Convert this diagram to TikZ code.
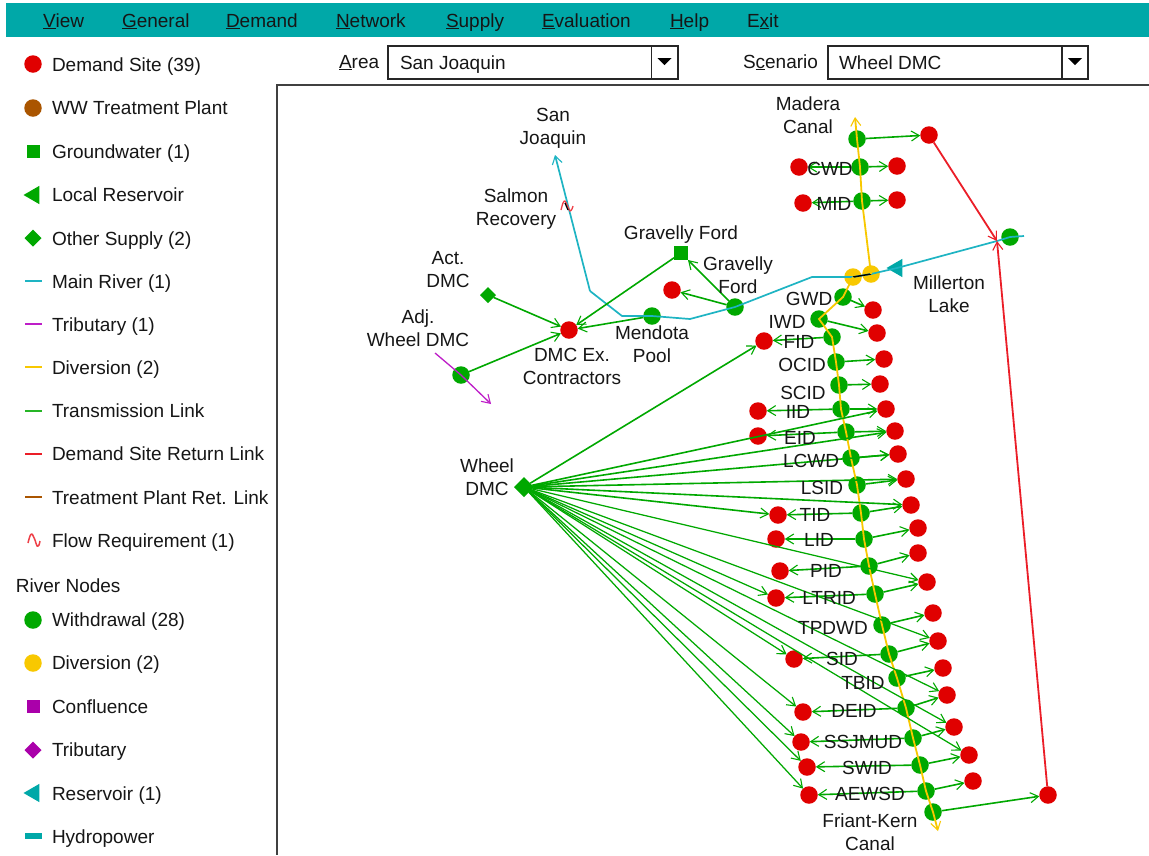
\documentclass[tikz,border=0pt]{standalone}
\usepackage{fontspec}
\setmainfont{Liberation Sans}
\usetikzlibrary{arrows.meta,shapes.geometric}
\definecolor{tgreen}{RGB}{0,168,0}
\definecolor{tred}{RGB}{224,0,0}
\definecolor{lred}{RGB}{235,30,40}
\definecolor{tteal}{RGB}{0,168,168}
\definecolor{river}{RGB}{30,180,195}
\definecolor{tyellow}{RGB}{248,200,0}
\definecolor{tpurple}{RGB}{170,0,170}
\definecolor{lpurple}{RGB}{190,30,200}
\definecolor{tbrown}{RGB}{170,85,0}
\definecolor{ink}{RGB}{22,22,22}
\tikzset{
  x=1pt,y=-1pt,
  every node/.style={inner sep=0pt,outer sep=0pt,text=ink,font=\fontsize{19}{23}\selectfont},
  dot/.style={circle,minimum size=17.500pt,fill=#1},
  sq/.style={rectangle,minimum size=#1,fill=tgreen},
  dia/.style={diamond,aspect=1,minimum size=#1,fill=tgreen},
  tri/.style={regular polygon,regular polygon sides=3,shape border rotate=90,minimum size=21pt,fill=#1},
  barb/.style={-{Straight Barb[length=8pt,width=10pt,line width=1.1pt]}},
  trans/.style={barb,draw=tgreen,line width=1.6pt},
  thin trans/.style={barb,draw=tgreen,line width=1.25pt},
  ret/.style={barb,draw=lred,line width=1.8pt},
  riverline/.style={draw=river,line width=1.7pt},
  divline/.style={draw=tyellow,line width=1.8pt},
  trib/.style={barb,draw=lpurple,line width=1.3pt},
  mapl/.style={align=center},
  rowl/.style={anchor=base},
  leg/.style={anchor=base west},
  keyl/.style={line width=1.7pt},
  menu/.style={anchor=base west},
  boxl/.style={draw=black!85,line width=1.3pt,fill=white,minimum height=33pt,anchor=north west},
}
\begin{document}
\begin{tikzpicture}
\useasboundingbox (0,0) rectangle (1149,855);
\fill[white] (0,0) rectangle (1149,855);
% menu bar
\node[fill=tteal,minimum width=1143pt,minimum height=34pt,anchor=north west] (bar) at (6,3) {};
\node[menu] (mView) at (43,27) {\underline{V}iew};
\node[menu] (mGeneral) at (122,27) {\underline{G}eneral};
\node[menu] (mDemand) at (226,27) {\underline{D}emand};
\node[menu] (mNetwork) at (336,27) {\underline{N}etwork};
\node[menu] (mSupply) at (446,27) {\underline{S}upply};
\node[menu] (mEval) at (542,27) {\underline{E}valuation};
\node[menu] (mHelp) at (670,27) {\underline{H}elp};
\node[menu] (mExit) at (747,27) {E\underline{x}it};
% selectors
\node[menu] (lArea) at (339,68) {\underline{A}rea};
\node[boxl,minimum width=290pt] (bArea) at (388,46) {};
\node[anchor=base west] (tArea) at (400,69) {San Joaquin};
\node[boxl,minimum width=26pt] (btnA) at (651.500,46) {};
\node[isosceles triangle,isosceles triangle apex angle=90,shape border rotate=-90,fill=black,minimum height=7pt,inner sep=0pt,minimum width=13pt] (trA) at (664.500,61) {};
\node[menu] (lScen) at (743,68) {S\underline{c}enario};
\node[boxl,minimum width=260pt] (bScen) at (828,46) {};
\node[anchor=base west] (tScen) at (839,69) {Wheel DMC};
\node[boxl,minimum width=26pt] (btnS) at (1062,46) {};
\node[isosceles triangle,isosceles triangle apex angle=90,shape border rotate=-90,fill=black,minimum height=7pt,inner sep=0pt,minimum width=13pt] (trS) at (1075,61) {};
% map frame
\coordinate (fa) at (1149,85);
\coordinate (fb) at (277,85);
\coordinate (fc) at (277,855);
\draw[draw=black!75,line width=1.6pt] (fa) -- (fb) -- (fc);
% legend icons
\node[dot=tred] (k1) at (33,64) {};
\node[dot=tbrown] (k2) at (33,108) {};
\node[sq=13pt] (k3) at (33,151) {};
\node[tri=tgreen] (k4) at (34,195) {};
\node[dia=17pt] (k5) at (33,238) {};
\foreach \n/\y/\c in {a/281/river,b/324/lpurple,c/367/tyellow,d/411/tgreen!85!white,e/454/lred,f/497/tbrown}{
  \coordinate (kl\n) at (25,\y);
  \coordinate (kr\n) at (42,\y);
  \draw[keyl,draw=\c] (kl\n) -- (kr\n);
}
\draw[lred!85,line width=1.5pt,line join=round] plot[smooth] coordinates {(28,543) (30,536) (32,534) (35,540) (37,546) (39,545) (40,541)};
\node[dot=tgreen] (k7) at (33,620) {};
\node[dot=tyellow] (k8) at (33,663) {};
\node[sq=13pt,fill=tpurple] (k9) at (33,706) {};
\node[dia=17pt,fill=tpurple] (k10) at (33,750) {};
\node[tri=tteal] (k11) at (34,793) {};
\node[rectangle,fill=tteal,minimum width=17pt,minimum height=6pt] (k12) at (33,836) {};
% legend text
\foreach \t/\y in {Demand Site (39)/71,WW Treatment Plant/114,Groundwater (1)/158,Local Reservoir/201,Other Supply (2)/245,Main River (1)/288,Tributary (1)/331,Diversion (2)/374,Transmission Link/417,Demand Site Return Link/460,Treatment Plant Ret. Link/504,Flow Requirement (1)/547,Withdrawal (28)/626,Diversion (2)/669,Confluence/713,Tributary/756,Reservoir (1)/800,Hydropower/843}{
  \node[leg] at (52,\y) {\t};
}
\node[leg] (rn) at (16,592) {River Nodes};
% withdrawal nodes
\foreach \n/\x/\y in {Mad/857/139,CWD/860/167,MID/862/201,GWD/843/297,IWD/819/319,FID/832/337,OCID/836/362,SCID/839/385,IID/841/409,EID/846/432,LCWD/851/458,LSID/857/485,TID/861/513,LID/864/539,PID/869/566,LTRID/875/594,TPDWD/882/625,SID/889/654,TBID/897/678,DEID/906/708,SSJMUD/913/738,SWID/920/765,AEWSD/926/791,FK/933/812,Mill/1010/237,GF/735/307,Men/652/316,Adj/461/375}{
  \node[dot=tgreen] (w\n) at (\x,\y) {};
}
% demand nodes right
\foreach \n/\x/\y in {Mad/929/135,CWD/897/166,MID/897/200,GWD/873/310,IWD/877/333,OCID/884/359,SCID/880/384,IID/886/409,EID/895/431,LCWD/898/454,LSID/906/479,TID/911/505,LID/918/528,PID/918/553,LTRID/927/582,TPDWD/933/613,SID/938/641,TBID/943/668,DEID/947/695,SSJMUD/954/727,SWID/969/755,AEWSD/973/781,FK/1048/795}{
  \node[dot=tred] (r\n) at (\x,\y) {};
}
% demand nodes left
\foreach \n/\x/\y in {CWD/799/167,MID/803/203,FID/764/341,IID/758/411,EID/758/436,TID/778/515,LID/776/539,PID/780/571,LTRID/776/598,SID/794/659,DEID/803/712,SSJMUD/801/742,SWID/807/767,AEWSD/809/795}{
  \node[dot=tred] (l\n) at (\x,\y) {};
}
\node[dot=tred] (dDMC) at (569,330) {};
\node[dot=tred] (dGF) at (672,290) {};
\node[sq=14pt] (gGF) at (681,253) {};
\node[dia=16pt] (sAct) at (488,295) {};
\node[dia=20pt] (sWheel) at (524,487) {};
\node[dot=tyellow] (dv1) at (853,277) {};
\node[dot=tyellow] (dv2) at (871,274) {};
\node[tri=tteal] (res) at (897,268) {};
% free ends
\coordinate (rvStart) at (1024,236);
\coordinate (rv1) at (997,241);
\coordinate (rv2) at (812,277);
\coordinate (rv3) at (690,319);
\coordinate (rv4) at (622,316);
\coordinate (rv5) at (590,291);
\coordinate (rvEnd) at (555,155);
\coordinate (madEnd) at (855,117);
\coordinate (fkEnd) at (938,831);
\coordinate (tribS) at (435,353);
\coordinate (tribE) at (491,404);
% main river
\draw[riverline] (rvStart) -- (wMill.center) -- (rv1) -- (res.center) -- (dv2.center) -- (dv1.center) -- (rv2) -- (wGF.center) -- (rv3) -- (wMen.center) -- (rv4) -- (rv5);
\draw[riverline,barb] (rv5) -- (rvEnd);
% black stub between diversions
\draw[black,line width=1.4pt] (dv1.center) -- (dv2.center);
% tributary
\draw[trib] (tribS) -- (wAdj.center) -- (tribE);
% diversions
\draw[divline,barb] (dv2.center) -- (wMID.center) -- (wCWD.center) -- (wMad.center) -- (madEnd);
\draw[divline,barb] (dv1.center) -- (wGWD.center) -- (wIWD.center) -- (wFID.center) -- (wOCID.center) -- (wSCID.center) -- (wIID.center) -- (wEID.center) -- (wLCWD.center) -- (wLSID.center) -- (wTID.center) -- (wLID.center) -- (wPID.center) -- (wLTRID.center) -- (wTPDWD.center) -- (wSID.center) -- (wTBID.center) -- (wDEID.center) -- (wSSJMUD.center) -- (wSWID.center) -- (wAEWSD.center) -- (wFK.center) -- (fkEnd);
% transmission to the right
\foreach \n in {Mad,CWD,MID,GWD,IWD,OCID,SCID,IID,EID,LCWD,LSID,TID,LID,PID,LTRID,TPDWD,SID,TBID,DEID,SSJMUD,SWID,AEWSD,FK}{
  \draw[trans] (w\n) -- (r\n);
}
% transmission to the left
\foreach \n in {CWD,MID,FID,IID,EID,TID,LID,PID,LTRID,SID,DEID,SSJMUD,SWID,AEWSD}{
  \draw[trans] (w\n) -- (l\n);
}
% Wheel DMC supply
\foreach \d in {lFID,rIID,rEID,rLCWD,rLSID,rTID,lTID}{
  \draw[trans] (sWheel) -- (\d);
}
\foreach \d in {rLTRID,lLTRID,rSID,lSID,rDEID,rSSJMUD,rSWID,lDEID,lSSJMUD,lSWID,lAEWSD}{
  \draw[thin trans] (sWheel) -- (\d);
}
% upper network
\draw[trans] (wGF) -- (gGF);
\draw[trans] (wGF) -- (dGF);
\draw[trans] (gGF) -- (dDMC);
\draw[trans] (wMen) -- (dDMC);
\draw[trans] (sAct) -- (dDMC);
\draw[trans] (wAdj) -- (dDMC);
% returns
\draw[ret] (rMad) -- (rv1);
\draw[ret] (rFK) -- (rv1);
% flow requirement
\draw[lred!85,line width=1.3pt,line join=round] plot[smooth] coordinates {(561,210) (563,203) (565,201) (568,207) (570,211) (572,209) (573,206)};
\draw[black,line width=1.2pt] (565,203) -- (568,210);
% map labels
\node[mapl] (tMad) at (808,115) {Madera\\Canal};
\node[mapl] (tSJ) at (553,128) {San\\Joaquin};
\node[mapl] (tSal) at (516,209) {Salmon\\Recovery};
\node[rowl] (tGF1) at (681,239) {Gravelly Ford};
\node[mapl] (tGF2) at (738,275) {Gravelly\\Ford};
\node[mapl] (tAct) at (448,270) {Act.\\DMC};
\node[mapl] (tAdj) at (418,328) {Adj.\\Wheel DMC};
\node[mapl] (tDMC) at (572,366) {DMC Ex.\\Contractors};
\node[mapl] (tMen) at (652,344) {Mendota\\Pool};
\node[mapl] (tMil) at (949,294) {Millerton\\Lake};
\node[mapl] (tWh) at (487,477) {Wheel\\DMC};
\node[mapl] (tFK) at (870,832) {Friant-Kern\\Canal};
\foreach \t/\x/\y in {CWD/830/175,MID/834/210,GWD/809/305,IWD/787/328,FID/799/348,OCID/802/371,SCID/803/399,IID/798/418,EID/800/444,LCWD/811/467,LSID/822/494,TID/815/521,LID/819/546,PID/826/577,LTRID/829/604,TPDWD/833/634,SID/842/665,TBID/863/689,DEID/854/717,SSJMUD/863/748,SWID/867/774,AEWSD/870/800}{
  \node[rowl] (n\t) at (\x,\y) {\t};
}
\end{tikzpicture}
\end{document}
